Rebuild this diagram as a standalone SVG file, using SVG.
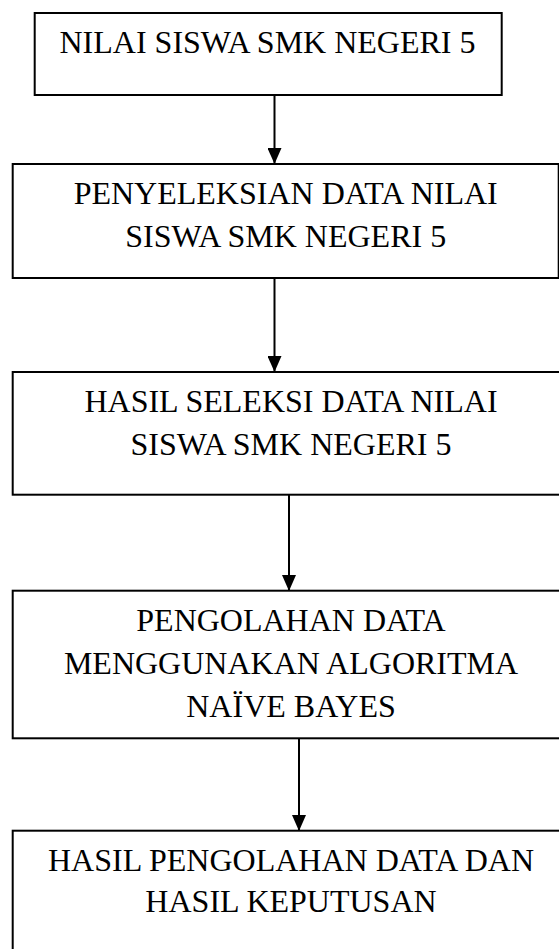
<svg xmlns="http://www.w3.org/2000/svg" width="559" height="949" viewBox="0 0 559 949">
<style>
.box{fill:#fff;stroke:#000;stroke-width:2}
.t{font-family:"Liberation Serif","Times New Roman",serif;font-size:32px;fill:#000;text-anchor:middle}
.c{stroke:#000;stroke-width:2;fill:none;marker-end:url(#ah)}
</style>
<defs>
<marker id="ah" viewBox="0 0 16 14" refX="16" refY="7" markerWidth="16" markerHeight="14" orient="auto" markerUnits="userSpaceOnUse">
<path d="M0,0 L16,7 L0,14 z" fill="#000"/>
</marker>
</defs>
<rect width="559" height="949" fill="#fff"/>
<g id="connectors">
<line class="c" x1="274.5" y1="95" x2="274.5" y2="164"/>
<line class="c" x1="274.5" y1="278" x2="274.5" y2="372"/>
<line class="c" x1="289" y1="495" x2="289" y2="591"/>
<line class="c" x1="299" y1="738" x2="299" y2="831"/>
</g>
<g id="n1">
<rect class="box" x="34.7" y="13" width="467" height="82"/>
<text class="t" x="267.5" y="53.3">NILAI SISWA SMK NEGERI 5</text>
</g>
<g id="n2">
<rect class="box" x="12.7" y="164" width="546" height="114"/>
<text class="t" x="285.7" y="204.3">PENYELEKSIAN DATA NILAI</text>
<text class="t" x="285.7" y="247.3">SISWA SMK NEGERI 5</text>
</g>
<g id="n3">
<rect class="box" x="12.7" y="372" width="557" height="122.7"/>
<text class="t" x="291" y="412">HASIL SELEKSI DATA NILAI</text>
<text class="t" x="291" y="455">SISWA SMK NEGERI 5</text>
</g>
<g id="n4">
<rect class="box" x="12.7" y="590.7" width="557" height="147.6"/>
<text class="t" x="291" y="631">PENGOLAHAN DATA</text>
<text class="t" x="291" y="674">MENGGUNAKAN ALGORITMA</text>
<text class="t" x="291" y="716.5">NAÏVE BAYES</text>
</g>
<g id="n5">
<rect class="box" x="12.7" y="830.7" width="557" height="140"/>
<text class="t" x="291" y="870.7">HASIL PENGOLAHAN DATA DAN</text>
<text class="t" x="291" y="912.3">HASIL KEPUTUSAN</text>
</g>
</svg>
